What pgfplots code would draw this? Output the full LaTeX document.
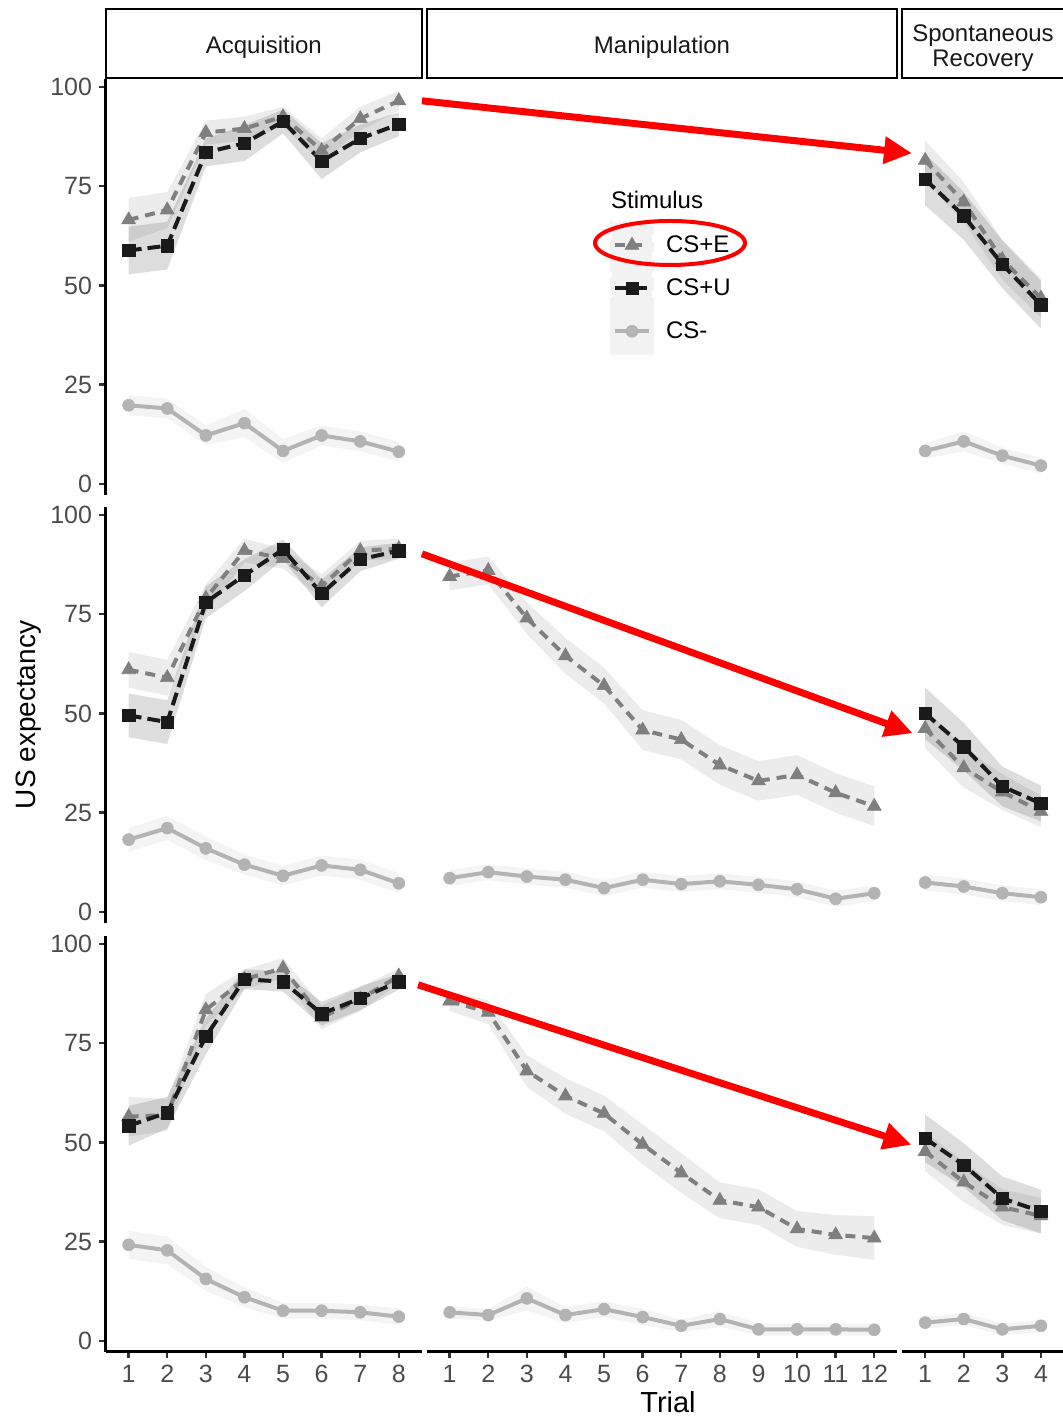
\documentclass[border=0pt]{standalone}
\usepackage{fontspec}
\setmainfont{Liberation Sans}
\usepackage{pgfplots}
\usepackage{pgfplotstable}
\pgfplotsset{compat=1.18}
\usepgfplotslibrary{fillbetween}
\usetikzlibrary{arrows.meta}

\definecolor{cE}{HTML}{7F7F7F}
\definecolor{cU}{HTML}{1A1A1A}
\definecolor{cN}{HTML}{B3B3B3}

% t = trial, E = CS+E, U = CS+U, N = CS-, e* = ribbon half width
\pgfplotstableread{
t E eE U eU N eN
1 66.5 5.5 58.8 6 19.8 2.5
2 69.0 4.5 60.0 6 19.0 2.5
3 88.5 3 83.5 3.5 12.2 2.5
4 89.5 3 85.8 4.5 15.3 3.5
5 92.5 2.5 91.3 3 8.3 3
6 84.0 3 81.3 4.5 12.2 2.5
7 92.0 3 87.0 3.5 10.7 2.5
8 96.5 2.5 90.6 3 8.1 2.5
}\acqA
\pgfplotstableread{
t E eE U eU N eN
1 81.5 5 76.7 6.5 8.3 2
2 71.0 5 67.5 6 10.7 2.5
3 56.5 5 55.3 6 7.1 2
4 46.8 5 45.1 6 4.6 2
}\recA
\pgfplotstableread{
t E eE U eU N eN
1 61.0 4.5 49.5 5.5 18.2 3
2 59.0 4.5 47.8 5.5 21.1 3
3 79.0 3.5 78.0 4 16.0 3
4 91.0 3 84.8 4 11.9 2.5
5 89.0 2.5 91.3 2.5 9.1 2.5
6 82.0 3 80.2 3.5 11.7 2.5
7 91.0 2.5 88.8 3 10.6 2.5
8 91.5 2.5 91.0 2 7.2 2.5
}\acqB
\pgfplotstableread{
t E eE N eN
1 84.5 3.5 8.5 2
2 86.0 3.5 10.0 2
3 74.0 4 8.9 2
4 64.5 4.5 8.1 2
5 57.0 4.5 6.0 2
6 45.8 5 8.1 2
7 43.4 5 7.0 2
8 37.0 5 7.7 2
9 33.0 5 6.8 2
10 34.5 5 5.7 2
11 30.0 5 3.3 2
12 26.6 5 4.7 2
}\manB
\pgfplotstableread{
t E eE U eU N eN
1 46.2 5 50.0 6.5 7.4 2
2 36.3 5 41.6 6 6.4 2
3 30.2 4.5 31.6 5 4.7 2
4 25.3 4 27.3 4.5 3.7 2
}\recB
\pgfplotstableread{
t E eE U eU N eN
1 56.5 5 54.2 5 24.2 3.5
2 56.9 4 57.5 4 22.8 3.5
3 83.4 4 76.7 4.5 15.6 3
4 91.1 2.5 91.1 2.5 11.0 2.5
5 93.9 2.5 90.5 2.5 7.6 2
6 81.5 3 82.4 3 7.6 2
7 86.1 3 86.3 3 7.2 2
8 91.9 2 90.5 2 6.1 2
}\acqC
\pgfplotstableread{
t E eE N eN
1 85.6 2.5 7.2 1.5
2 82.8 3 6.5 1.5
3 68.0 4 10.7 3
4 61.7 4.5 6.5 2
5 57.3 4.5 8.0 2
6 49.5 5 6.0 2
7 42.3 5 3.8 1.5
8 35.4 4.5 5.5 2
9 33.7 4.5 2.9 1.5
10 28.2 4.5 2.9 1.5
11 26.7 5 2.9 1.5
12 25.9 5.5 2.8 1.5
}\manC
\pgfplotstableread{
t E eE U eU N eN
1 47.7 5 51.0 6 4.6 1.5
2 40.0 5 44.3 5.5 5.5 1.5
3 33.7 4.5 35.9 5.5 2.9 1.5
4 31.5 4.5 32.6 5.5 3.8 1.5
}\recC

\tikzset{
  E line/.style={color=cE, line width=2pt, dash pattern=on 5pt off 3.5pt,
    mark=triangle*, mark size=4pt, mark options={solid, line width=0.3pt}},
  U line/.style={color=cU, line width=2pt, dash pattern=on 6.5pt off 3pt,
    mark=square*, mark size=3.1pt, mark options={solid, line width=0.3pt}},
  N line/.style={color=cN, line width=2pt, solid,
    mark=*, mark size=3pt, mark options={solid, line width=0.3pt}},
  E band/.style={fill=cE, fill opacity=0.15, draw=none},
  U band/.style={fill=cU, fill opacity=0.15, draw=none},
  N band/.style={fill=cN, fill opacity=0.15, draw=none},
}

\pgfplotsset{
  panel/.style={
    scale only axis, height=208pt,
    xmin=0.4, ymin=-2.8, ymax=102,
    axis x line*=bottom, axis y line*=left,
    axis line style={line width=1.5pt, black, -},
    tick align=outside, major tick length=3.2pt,
    tick style={line width=1.2pt, black!80},
    ytick={0,25,50,75,100},
    ticklabel style={font=\fontsize{12.5}{14}\selectfont, text=black!70},
    /pgf/number format/assume math mode=true,
  },
  acq/.style={panel, width=158.25pt, xmax=8.6, xtick={1,...,8}},
  man/.style={panel, width=235.45pt, xmax=12.6, xtick={1,...,12}},
  rec/.style={panel, width=81.05pt, xmax=4.6, xtick={1,...,4}},
}

\newcommand\band[2]{%
  \addplot[name path=u#2, draw=none] table[x=t, y expr=\thisrow{#2}+\thisrow{e#2}] {#1};
  \addplot[name path=l#2, draw=none] table[x=t, y expr=\thisrow{#2}-\thisrow{e#2}] {#1};
  \addplot[#2 band] fill between[of=u#2 and l#2];
}
\newcommand\curve[2]{\addplot[#2 line] table[x=t, y=#2] {#1};}
\newcommand\three[1]{\band{#1}{E}\band{#1}{U}\band{#1}{N}\curve{#1}{E}\curve{#1}{U}\curve{#1}{N}}
\newcommand\two[1]{\band{#1}{E}\band{#1}{N}\curve{#1}{E}\curve{#1}{N}}

\begin{document}
\begin{tikzpicture}
% facet strips
\begin{scope}[line width=1pt, font=\fontsize{12}{12.5}\selectfont, text=black!90]
  \draw (52.75pt,670pt) rectangle (211pt,704.5pt);
  \draw (213.25pt,670pt) rectangle (448.7pt,704.5pt);
  \draw (451pt,670pt) rectangle (532pt,704.5pt);
  \node at (131.9pt,685.25pt) {Acquisition};
  \node at (331pt,685.25pt) {Manipulation};
  \node[align=center] at (491.5pt,685pt) {Spontaneous\\Recovery};
\end{scope}

% row 1
\begin{axis}[acq, at={(52.75pt,461.5pt)}, hide x axis]
  \three{\acqA}
  \coordinate (s1) at (axis cs:8.6,96.5);
\end{axis}
\begin{axis}[man, at={(213.25pt,461.5pt)}, hide axis,
    legend cell align=left,
    legend image code/.code={
      \fill[black!5] (0pt,-10.9pt) rectangle (20pt,10.9pt);
      \draw[mark repeat=2, mark phase=2, #1] plot coordinates {(1.5pt,0pt) (10pt,0pt) (18.5pt,0pt)};
    },
    legend style={at={(0.3897,0.6575)}, anchor=north west, draw=none, fill=none,
      inner sep=0pt, outer sep=0pt, row sep=-2.3pt,
      nodes={inner sep=0pt, outer sep=0pt},
      /tikz/every odd column/.append style={column sep=6pt},
      font=\fontsize{12}{14}\selectfont}]
  % empty panel: invisible frame so the axis has limits
  \addplot[draw=none, forget plot] coordinates {(1,0) (12,100)};
  \addlegendimage{E line}\addlegendentry{CS+E}
  \addlegendimage{U line}\addlegendentry{CS+U}
  \addlegendimage{N line}\addlegendentry{CS-}
\end{axis}
\begin{axis}[rec, at={(451pt,461.5pt)}, hide axis]
  \three{\recA}
  \coordinate (e1) at (axis cs:0.66,83.3);
\end{axis}

% row 2
\begin{axis}[acq, at={(52.75pt,247.5pt)}, hide x axis]
  \three{\acqB}
  \coordinate (s2) at (axis cs:8.6,90.2);
\end{axis}
\begin{axis}[man, at={(213.25pt,247.5pt)}, hide axis]
  \two{\manB}
\end{axis}
\begin{axis}[rec, at={(451pt,247.5pt)}, hide axis]
  \three{\recB}
  \coordinate (e2) at (axis cs:0.68,45.0);
\end{axis}

% row 3
\begin{axis}[acq, at={(52.75pt,33pt)}]
  \three{\acqC}
  \coordinate (s3) at (axis cs:8.5,89.7);
\end{axis}
\begin{axis}[man, at={(213.25pt,33pt)}, hide y axis]
  \two{\manC}
\end{axis}
\begin{axis}[rec, at={(451pt,33pt)}, hide y axis]
  \three{\recC}
  \coordinate (e3) at (axis cs:0.64,49.4);
\end{axis}

% titles
\node[rotate=90, font=\fontsize{14}{16}\selectfont] at (14.5pt,351.5pt) {US expectancy};
\node[font=\fontsize{14.5}{16}\selectfont] at (334pt,8pt) {Trial};
\node[anchor=west, font=\fontsize{12}{14}\selectfont] at (302pt,609pt) {Stimulus};

% annotations
\begin{scope}[red, line width=3.5pt, -{Triangle[length=14pt,width=13pt]}]
  \draw (s1) -- (e1);
  \draw (s2) -- (e2);
  \draw (s3) -- (e3);
\end{scope}
\draw[red, line width=2pt] (335pt,587.5pt) ellipse [x radius=37.5pt, y radius=11pt];

\pgfresetboundingbox
\useasboundingbox (0,0) rectangle (531pt,709pt);
\end{tikzpicture}
\end{document}
